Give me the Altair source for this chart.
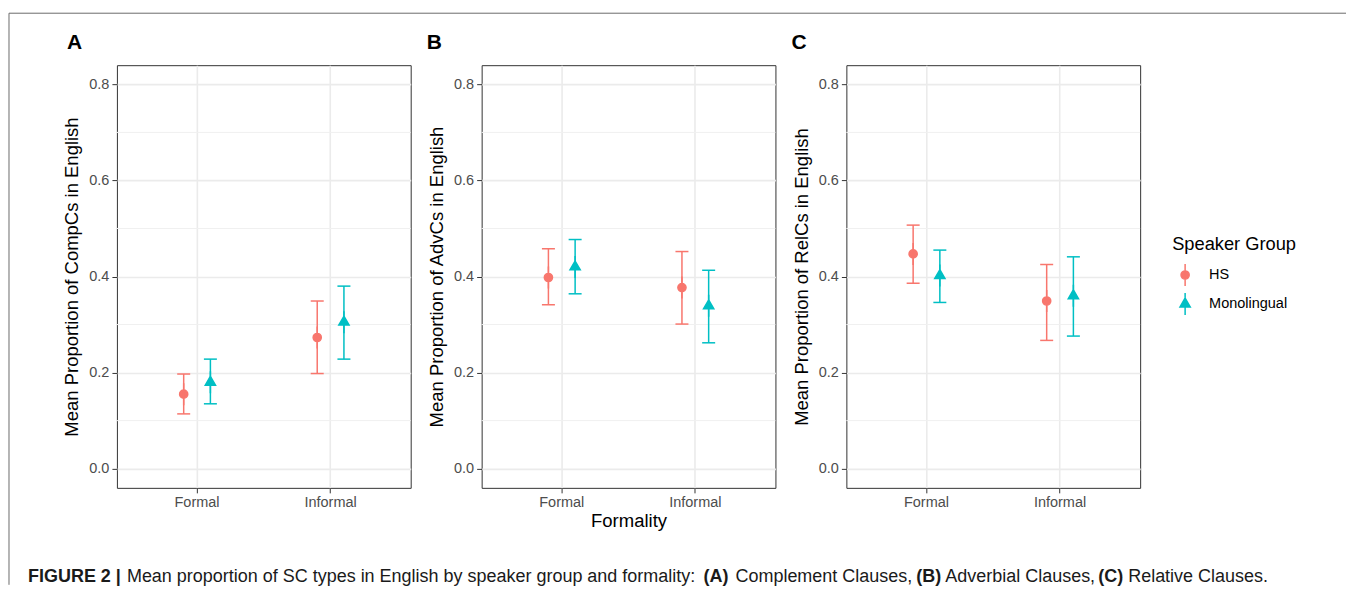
import altair as alt
import pandas as pd

# ---------------- data ----------------
formality = ["Formal", "Informal"]
groups = ["HS", "Monolingual"]
legend_title = "Speaker Group"
panel_tags = ["A", "B", "C"]
y_titles = [
    "Mean Proportion of CompCs in English",
    "Mean Proportion of AdvCs in English",
    "Mean Proportion of RelCs in English",
]
cell_formality = ["Formal", "Formal", "Informal", "Informal"]
cell_group = ["HS", "Monolingual", "HS", "Monolingual"]

means_A = [0.155, 0.180, 0.273, 0.305]
lower_A = [0.114, 0.135, 0.198, 0.228]
upper_A = [0.197, 0.228, 0.349, 0.380]

means_B = [0.398, 0.420, 0.377, 0.339]
lower_B = [0.341, 0.364, 0.301, 0.262]
upper_B = [0.458, 0.477, 0.452, 0.413]

means_C = [0.447, 0.402, 0.349, 0.360]
lower_C = [0.386, 0.346, 0.267, 0.276]
upper_C = [0.507, 0.455, 0.425, 0.441]

y_major = [0.0, 0.2, 0.4, 0.6, 0.8]
y_minor = [0.1, 0.3, 0.5, 0.7]

caption_texts = [
    "FIGURE 2 |",
    "Mean proportion of SC types in English by speaker group and formality:",
    "(A)",
    "Complement Clauses,",
    "(B)",
    "Adverbial Clauses,",
    "(C)",
    "Relative Clauses.",
]
caption_bold = [True, False, True, False, True, False, True, False]

# ---------------- style / layout ----------------
FONT = "Liberation Sans"
colors = ["#F8766D", "#00BFC4"]
shape_hs = "M0,-1.88V1.88M0.7,0A0.7,0.7,0,1,1,-0.7,0A0.7,0.7,0,1,1,0.7,0Z"
shape_mono = "M0,-1.88V1.88M0,-1.01L0.875,0.505L-0.875,0.505Z"
PW, PH = 294, 423
BW = PW / 2.2  # band width of the x scale (paddingOuter 0.1)
PANEL_GAP = 71
PLOT_LEFT = 116
PLOT_TOP = 64
CAP_TOP = 557
caption_px = [27, 126, 703, 735, 916, 945, 1098, 1128]  # page x of caption pieces
tag_dx = [-50, -55, -55]
LEG_LEFT = PLOT_LEFT + 3 * PW + 3 * PANEL_GAP  # page x of the legend view

means = {"A": means_A, "B": means_B, "C": means_C}
lowers = {"A": lower_A, "B": lower_B, "C": lower_C}
uppers = {"A": upper_A, "B": upper_B, "C": upper_C}

yscale = alt.Scale(domain=[-0.04, 0.84], nice=False, zero=False)
cscale = alt.Scale(domain=groups, range=colors)
sscale = alt.Scale(domain=groups, range=[shape_hs, shape_mono])


def panel(i):
    tag = panel_tags[i]
    df = pd.DataFrame({
        "Formality": cell_formality,
        "Group": cell_group,
        "mean": means[tag],
        "lower": lowers[tag],
        "upper": uppers[tag],
    })
    yaxis = alt.Axis(
        title=y_titles[i], values=y_major, format=".1f", grid=True,
        gridColor="#EBEBEB", gridWidth=1.6, domain=False,
        tickColor="#333333", tickSize=5, tickWidth=1,
        labelFont=FONT, labelFontSize=14.5, labelColor="#4D4D4D", labelPadding=3,
        titleFont=FONT, titleFontSize=18.5, titleFontWeight="normal",
        titleColor="black", titlePadding=7,
    )
    xaxis = alt.Axis(
        title="Formality" if i == 1 else None, grid=True, gridColor="#EBEBEB",
        gridWidth=1.6, domain=False, bandPosition=0.5, labelAngle=0,
        tickColor="#333333", tickSize=5, tickWidth=1,
        labelFont=FONT, labelFontSize=14.5, labelColor="#4D4D4D", labelPadding=3,
        titleFont=FONT, titleFontSize=18.5, titleFontWeight="normal",
        titleColor="black", titlePadding=2,
    )
    x = alt.X("Formality:N", scale=alt.Scale(domain=formality, paddingInner=0, paddingOuter=0.1), axis=xaxis)
    xoff = alt.XOffset("Group:N", scale=alt.Scale(domain=groups, range=[0.3 * BW, 0.7 * BW],
                                                   paddingInner=0, paddingOuter=0))

    minor = alt.Chart(pd.DataFrame({"v": y_minor})).mark_rule(
        color="#F0F0F0", strokeWidth=1
    ).encode(y=alt.Y("v:Q", scale=yscale, axis=yaxis))

    base = alt.Chart(df)
    bars = base.mark_rule(strokeWidth=1.5).encode(
        x=x, xOffset=xoff,
        y=alt.Y("lower:Q", scale=yscale, axis=yaxis), y2="upper:Q",
        color=alt.Color("Group:N", scale=cscale, legend=None),
    )
    caps = base.transform_fold(["lower", "upper"], as_=["end", "value"]).mark_tick(
        size=13, thickness=1.5, orient="horizontal", opacity=1
    ).encode(
        x=x, xOffset=xoff,
        y=alt.Y("value:Q", scale=yscale, axis=yaxis),
        color=alt.Color("Group:N", scale=cscale, legend=None),
    )
    pts = base.mark_point(filled=False, size=137, opacity=1, strokeWidth=1.5).encode(
        x=x, xOffset=xoff,
        y=alt.Y("mean:Q", scale=yscale, axis=yaxis),
        color=alt.Color("Group:N", scale=cscale, legend=None),
        fill=alt.Fill("Group:N", scale=cscale, legend=None),
        shape=alt.Shape("Group:N", scale=sscale, legend=None),
    )
    return alt.layer(minor, bars, caps, pts).properties(
        width=PW, height=PH,
        title=alt.TitleParams(
            tag, anchor="start", frame="group", dx=tag_dx[i], dy=18, offset=13,
            baseline="alphabetic", font=FONT, fontSize=21, fontWeight="bold", color="black",
        ),
    )


# legend drawn as its own small view (symbols = point + error-bar line)
leg_df = pd.DataFrame({"Group": groups})
leg_y = alt.Y("Group:N", scale=alt.Scale(type="point", domain=groups, range=[274 - PLOT_TOP, 303 - PLOT_TOP], padding=0), axis=None)
leg_sym = alt.Chart(leg_df).mark_point(filled=False, size=137, opacity=1, strokeWidth=1.5).encode(
    x=alt.value(1185 - LEG_LEFT), y=leg_y,
    color=alt.Color("Group:N", scale=cscale, legend=None),
    fill=alt.Fill("Group:N", scale=cscale, legend=None),
    shape=alt.Shape("Group:N", scale=sscale, legend=None),
)
leg_lab = alt.Chart(leg_df).mark_text(
    align="left", baseline="middle", font=FONT, fontSize=14.5, color="black"
).encode(x=alt.value(1209 - LEG_LEFT), y=leg_y, text="Group:N")
leg_title = alt.Chart(pd.DataFrame({"t": [legend_title]})).mark_text(
    align="left", baseline="alphabetic", font=FONT, fontSize=18.3, color="black"
).encode(x=alt.value(1172 - LEG_LEFT), y=alt.value(249 - PLOT_TOP), text="t:N")
legend_view = alt.layer(leg_title, leg_sym, leg_lab).properties(
    width=100, height=PH, view=alt.ViewBackground(stroke=None)
)

panels = alt.hconcat(
    panel(0), panel(1), panel(2), legend_view, spacing=PANEL_GAP, bounds="flush"
).resolve_scale(x="independent", y="independent")

# caption + figure frame (decoration)
cap_layers = []
for txt, bold, px in zip(caption_texts, caption_bold, caption_px):
    cap_layers.append(
        alt.Chart(pd.DataFrame({"t": [txt]})).mark_text(
            align="left", baseline="alphabetic", font=FONT, fontSize=18,
            fontWeight="bold" if bold else "normal", color="#1a1a1a",
        ).encode(text="t:N", x=alt.value(px - PLOT_LEFT), y=alt.value(24))
    )
frame_df = pd.DataFrame({"a": [0]})
left_line = alt.Chart(frame_df).mark_rule(color="#6b6b6b", strokeWidth=1).encode(
    x=alt.value(8 - PLOT_LEFT), y=alt.value(12 - CAP_TOP), y2=alt.value(584 - CAP_TOP)
)
top_line = alt.Chart(frame_df).mark_rule(color="#6b6b6b", strokeWidth=1).encode(
    x=alt.value(8 - PLOT_LEFT), x2=alt.value(1346 - PLOT_LEFT), y=alt.value(12 - CAP_TOP)
)
caption = alt.layer(left_line, top_line, *cap_layers).properties(
    width=1100, height=24, view=alt.ViewBackground(stroke=None)
)

# nested concat rows count as zero height in a flush layout, so the spacing
# carries the whole vertical offset from the panel tops to the caption view
chart = alt.vconcat(panels, caption, spacing=CAP_TOP - PLOT_TOP, bounds="flush").properties(
    padding={"left": 0, "top": 4, "right": 0, "bottom": 0}, background="white"
).configure_view(stroke="#333333", strokeWidth=1)

chart.save("out.html", embed_options={"renderer": "svg", "actions": False})
